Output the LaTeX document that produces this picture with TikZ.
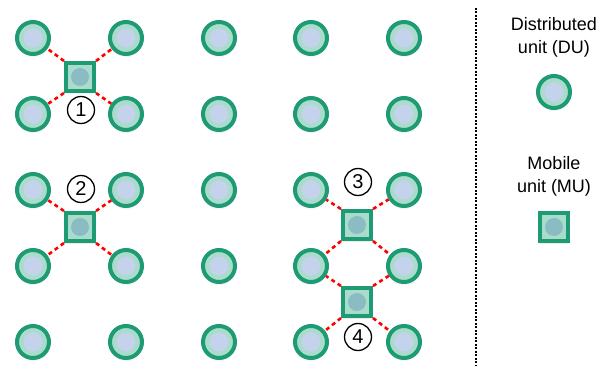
\documentclass[tikz,border=0pt]{standalone}
\usepackage{fontspec}
\setmainfont{Liberation Sans}
\usetikzlibrary{shadows.blur}
\definecolor{unitc}{RGB}{30,155,116}
\definecolor{ringc}{RGB}{170,220,204}
\definecolor{duinc}{RGB}{196,210,236}
\definecolor{muinc}{RGB}{139,188,196}
\definecolor{linkc}{RGB}{255,0,0}

\begin{document}
\begin{tikzpicture}[x=1pt, y=-1pt,
  du/.style={circle, draw=unitc, line width=4pt, fill=ringc, minimum size=32pt, inner sep=0pt,
             blur shadow={shadow xshift=0pt, shadow yshift=-2pt, shadow opacity=12, shadow blur steps=6},
             path picture={\fill[duinc] (path picture bounding box.center) circle (9.5pt);}},
  mu/.style={rectangle, draw=unitc, line width=4pt, fill=ringc, minimum size=28pt, inner sep=0pt,
             blur shadow={shadow xshift=0pt, shadow yshift=-2pt, shadow opacity=12, shadow blur steps=6},
             path picture={\fill[muinc] (path picture bounding box.center) circle (9pt);}},
  tag/.style={circle, draw=black, line width=1.3pt, fill=white, minimum size=27pt, inner sep=0pt,
              font=\fontsize{20}{22}\selectfont},
  link/.style={linkc, line width=2.6pt, dash pattern=on 4pt off 3.5pt},
  legend/.style={align=center, font=\fontsize{18}{23}\selectfont},
]
\useasboundingbox (0,0) rectangle (614,371);

% grid of distributed units
\foreach \c/\x in {1/33, 2/126, 3/219, 4/311, 5/404}
  \foreach \r/\y in {1/38, 2/114, 3/190, 4/266, 5/342}
    \node[du] (du\c\r) at (\x,\y) {};

% mobile units
\node[mu] (mu1) at (80,77) {};
\node[mu] (mu2) at (80,227) {};
\node[mu] (mu3) at (357,225) {};
\node[mu] (mu4) at (357,302) {};

% links to the neighbouring units
\draw[link] (mu1.north west) -- (du11); \draw[link] (mu1.north east) -- (du21);
\draw[link] (mu1.south west) -- (du12); \draw[link] (mu1.south east) -- (du22);
\draw[link] (mu2.north west) -- (du13); \draw[link] (mu2.north east) -- (du23);
\draw[link] (mu2.south west) -- (du14); \draw[link] (mu2.south east) -- (du24);
\draw[link] (mu3.north west) -- (du43); \draw[link] (mu3.north east) -- (du53);
\draw[link] (mu3.south west) -- (du44); \draw[link] (mu3.south east) -- (du54);
\draw[link] (mu4.north west) -- (du44); \draw[link] (mu4.north east) -- (du54);
\draw[link] (mu4.south west) -- (du45); \draw[link] (mu4.south east) -- (du55);

% numbers
\node[tag] (t1) at (81,110) {1};
\node[tag] (t2) at (81,189) {2};
\node[tag] (t3) at (358,182) {3};
\node[tag] (t4) at (358,337) {4};

% legend
\coordinate (sepT) at (476,8);
\coordinate (sepB) at (476,366);
\draw[black, line width=1.5pt, dash pattern=on 2pt off 1.5pt] (sepT) -- (sepB);
\node[legend] (dulab) at (554,37) {Distributed\\unit (DU)};
\node[du] (dukey) at (554,92) {};
\node[legend] (mulab) at (554,176) {Mobile\\unit (MU)};
\node[mu] (mukey) at (554,227) {};

\end{tikzpicture}
\end{document}
